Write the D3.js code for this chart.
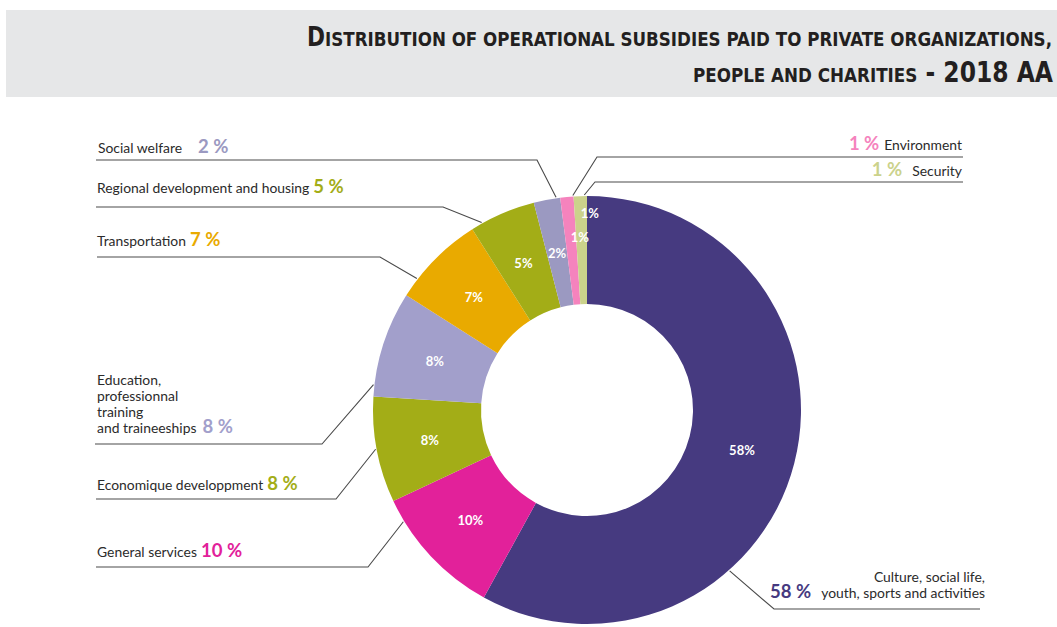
<!DOCTYPE html>
<html>
<head>
<meta charset="utf-8">
<script src="https://cdn.jsdelivr.net/npm/d3@7"></script>
<style>
  html, body { margin: 0; padding: 0; background: #ffffff; }
  svg { display: block; }
</style>
</head>
<body>
<svg id="chart" width="1057" height="627"></svg>
<script>
// Subsidy shares by sector, in drawing order (clockwise from 12 o'clock)
const categories = [
  ["Culture, social life,", "youth, sports and activities"],
  ["General services"],
  ["Economique developpment"],
  ["Education,", "professionnal", "training", "and traineeships"],
  ["Transportation"],
  ["Regional development and housing"],
  ["Social welfare"],
  ["Environment"],
  ["Security"]
];
const shares = [58, 10, 8, 8, 7, 5, 2, 1, 1];
const sliceColors = ["#463a80", "#e2219a", "#a3ad17", "#a29fcb", "#e9aa00", "#a3ad17", "#9b99c1", "#f583bd", "#cbd28b"];

// Title: [capital, small caps] on row one, [small caps, large] on row two
const titleRow1 = ["D", "istribution of operational subsidies paid to private organizations,"];
const titleRow2 = ["people and charities", " - 2018 AA"];

const W = 1057, H = 627;
const svg = d3.select("#chart");
const textFont = "Lato, 'Open Sans', 'DejaVu Sans', sans-serif";
const titleFont = "'Liberation Sans Narrow', 'DejaVu Sans Condensed', 'Liberation Sans', sans-serif";

// ---- header band ----
svg.append("rect")
  .attr("x", 6).attr("y", 10).attr("width", W - 6).attr("height", 87)
  .attr("fill", "#e6e7e8");

const t1 = svg.append("text")
  .attr("x", 307).attr("y", 46)
  .attr("textLength", 745).attr("lengthAdjust", "spacingAndGlyphs")
  .attr("font-family", titleFont).attr("font-weight", "bold")
  .attr("fill", "#231f20");
t1.append("tspan").attr("font-size", 26).text(titleRow1[0].toUpperCase());
t1.append("tspan").attr("font-size", 20).text(titleRow1[1].toUpperCase());

const t2 = svg.append("text")
  .attr("x", 693).attr("y", 82)
  .attr("textLength", 360).attr("lengthAdjust", "spacingAndGlyphs")
  .attr("font-family", titleFont).attr("font-weight", "bold")
  .attr("fill", "#231f20");
t2.append("tspan").attr("font-size", 20).text(titleRow2[0].toUpperCase());
t2.append("tspan").attr("font-size", 28).text(titleRow2[1]);

// ---- donut ----
const cx = 587, cy = 410, R = 214, r0 = 106;
const data = shares.map((v, i) => ({ value: v, i }));
const pie = d3.pie().value(d => d.value).sort(null)
  .startAngle(0).endAngle(2 * Math.PI);
const arcs = pie(data);
const arc = d3.arc().innerRadius(r0).outerRadius(R);

const g = svg.append("g").attr("transform", `translate(${cx},${cy})`);
g.selectAll("path.slice")
  .data(arcs)
  .join("path")
  .attr("class", "slice")
  .attr("d", arc)
  .attr("fill", d => sliceColors[d.data.i]);

// in-slice value labels; the thinnest slices get their label pushed outward
const thinLabelRadius = { 7: 174, 8: 197 };
g.selectAll("text.val")
  .data(arcs)
  .join("text")
  .attr("class", "val")
  .each(function (d) {
    const thin = thinLabelRadius[d.data.i];
    const rad = thin || 160;
    const a = (d.startAngle + d.endAngle) / 2;
    d3.select(this)
      .attr("x", rad * Math.sin(a))
      .attr("y", -rad * Math.cos(a))
      .attr("text-anchor", thin ? "start" : "middle");
  })
  .attr("dominant-baseline", "central")
  .attr("font-family", textFont)
  .attr("font-weight", "bold")
  .attr("font-size", 13)
  .attr("fill", "#ffffff")
  .text(d => `${d.data.value}%`);

// ---- callouts: text rows, underline and leader to the ring ----
// side, text x (start for left, end for right), last baseline, underline y,
// underline far end, elbow x, position along the slice where the leader lands
const callouts = [
  { side: "right", x: 985, y: 598, lineY: 609, far: 980, elbow: 774, t: 0.663, gap: 10 },
  { side: "left",  x: 97,  y: 557, lineY: 567, far: 96,  elbow: 368, t: 0.83,  gap: 4 },
  { side: "left",  x: 97,  y: 490, lineY: 499, far: 96,  elbow: 336, t: 0.51,  gap: 4 },
  { side: "left",  x: 97,  y: 433, lineY: 444, far: 95,  elbow: 322, t: 0.11,  gap: 6 },
  { side: "left",  x: 97,  y: 246, lineY: 257, far: 97,  elbow: 380, t: 0.21,  gap: 4 },
  { side: "left",  x: 97,  y: 193, lineY: 207, far: 96,  elbow: 443, t: 0.17,  gap: 4 },
  { side: "left",  x: 98,  y: 153, lineY: 160, far: 96,  elbow: 537, t: 0.85,  gap: 16 },
  { side: "right", x: 962, y: 150, lineY: 157, far: 963, elbow: 597, t: 0.95,  gap: 5 },
  { side: "right", x: 962, y: 176, lineY: 182, far: 963, elbow: 595, t: 0.80,  gap: 10 }
];

const lineH = 16;
const notes = svg.append("g");

arcs.forEach(d => {
  const c = callouts[d.data.i];
  const lines = categories[d.data.i];
  const color = sliceColors[d.data.i];
  const a = d.startAngle + c.t * (d.endAngle - d.startAngle);
  const tx = cx + (R + 1) * Math.sin(a);
  const ty = cy - (R + 1) * Math.cos(a);

  notes.append("path")
    .attr("d", `M${c.far},${c.lineY}H${c.elbow}L${tx},${ty}`)
    .attr("fill", "none")
    .attr("stroke", "#4a4a4a")
    .attr("stroke-width", 1.1);

  lines.forEach((ln, k) => {
    const isLast = k === lines.length - 1;
    const y = c.y - (lines.length - 1 - k) * lineH;
    const txt = notes.append("text")
      .attr("x", c.x).attr("y", y)
      .attr("font-family", textFont)
      .attr("font-size", 13.9)
      .attr("fill", "#2b2b2b")
      .attr("text-anchor", c.side === "left" ? "start" : "end");
    const pct = `${d.data.value} %`;
    if (c.side === "left") {
      txt.append("tspan").text(ln);
      if (isLast) {
        txt.append("tspan").attr("dx", c.gap)
          .attr("font-size", 18.5).attr("font-weight", "bold")
          .attr("fill", color).text(pct);
      }
    } else {
      if (isLast) {
        txt.append("tspan")
          .attr("font-size", 18.5).attr("font-weight", "bold")
          .attr("fill", color).text(pct);
        txt.append("tspan").attr("dx", c.gap).text(ln);
      } else {
        txt.text(ln);
      }
    }
  });
});
</script>
</body>
</html>
